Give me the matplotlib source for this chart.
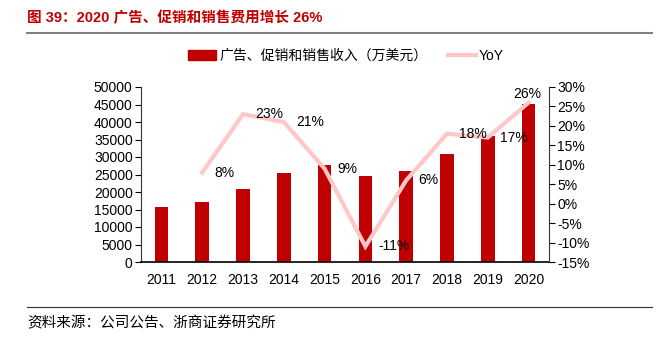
import numpy as np
import matplotlib.pyplot as plt
from matplotlib.lines import Line2D
from matplotlib.patches import Patch

plt.rcParams['font.family'] = ['Liberation Sans', 'Noto Sans CJK SC', 'DejaVu Sans']

years = ['2011', '2012', '2013', '2014', '2015', '2016', '2017', '2018', '2019', '2020']
revenue = [15800, 17100, 20900, 25500, 27700, 24600, 26100, 30800, 36000, 45200]
yoy = [None, 8, 23, 21, 9, -11, 6, 18, 17, 26]
yoy_labels = ['', '8%', '23%', '21%', '9%', '-11%', '6%', '18%', '17%', '26%']

bar_color = '#C00000'
line_color = '#FFC7C7'

fig = plt.figure(figsize=(6.62, 3.37), dpi=100)
ax = fig.add_axes([141 / 662, 1 - 262 / 337, 408 / 662, 175 / 337])
ax2 = ax.twinx()

x = np.arange(len(years))
ax.bar(x, revenue, width=0.33, color=bar_color, zorder=2)
ax.set_xlim(-0.5, len(years) - 0.5)
ax.set_ylim(0, 50000)
ax.set_yticks(np.arange(0, 50001, 5000))
ax.set_xticks(x)
ax.set_xticklabels(years)
ax.tick_params(axis='x', length=0, pad=8, labelsize=10)
ax.tick_params(axis='y', direction='out', length=4, labelsize=10, pad=2)
ax.spines['top'].set_visible(False)
ax.spines['right'].set_visible(False)
ax.spines['left'].set_color('#333333')
ax.spines['bottom'].set_color('black')
ax.spines['bottom'].set_linewidth(1.2)

xs = [i for i, v in enumerate(yoy) if v is not None]
ys = [v for v in yoy if v is not None]
ax2.plot(xs, ys, color=line_color, lw=3, zorder=3, solid_joinstyle='miter')
ax2.set_ylim(-15, 30)
ax2.set_yticks(np.arange(-15, 31, 5))
ax2.set_yticklabels([f'{v}%' for v in range(-15, 31, 5)])
ax2.tick_params(axis='y', direction='out', length=4, labelsize=10, pad=2)
for s in ['top', 'left', 'bottom']:
    ax2.spines[s].set_visible(False)
ax2.spines['right'].set_color('#333333')

for i, v in enumerate(yoy):
    if v is None:
        continue
    if i == len(yoy) - 1:
        ax2.annotate(yoy_labels[i], (i, v), xytext=(-1, 6), textcoords='offset points',
                     ha='center', va='center', fontsize=10, zorder=4)
    else:
        ax2.annotate(yoy_labels[i], (i, v), xytext=(9, 0), textcoords='offset points',
                     ha='left', va='center', fontsize=10, zorder=4)

handles = [Patch(color=bar_color), Line2D([0], [0], color=line_color, lw=3)]
fig.legend(handles, ['广告、促销和销售收入（万美元）', 'YoY'], loc='center',
           bbox_to_anchor=(346 / 662, 1 - 56 / 337), ncol=2, frameon=False, fontsize=10,
           handlelength=2.0, handletextpad=0.2, columnspacing=1.5)

fig.text(27 / 662, 1 - 18 / 337, '图 39：2020 广告、促销和销售费用增长 26%', color='#C00000',
         fontsize=10.5, fontweight='bold', va='center', ha='left')
fig.add_artist(Line2D([27 / 662, 652 / 662], [1 - 33 / 337, 1 - 33 / 337], color='#808080', lw=1.5))
fig.add_artist(Line2D([27 / 662, 652 / 662], [1 - 307 / 337, 1 - 307 / 337], color='#333333', lw=0.8))
fig.text(27 / 662, 1 - 323 / 337, '资料来源：公司公告、浙商证券研究所', fontsize=10.5,
         va='center', ha='left', family=['Noto Sans CJK SC'])

fig.savefig('out.png', dpi=100)
